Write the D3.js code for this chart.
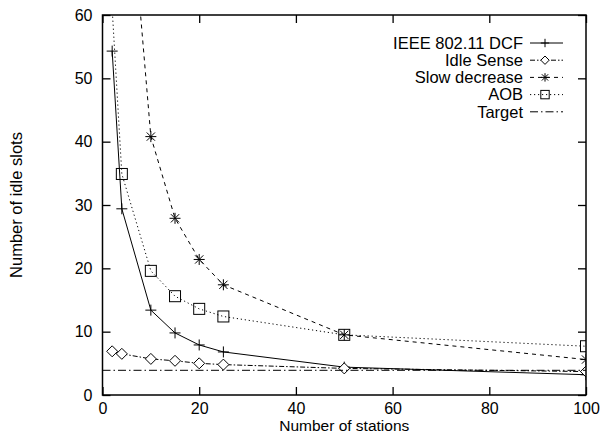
<!DOCTYPE html>
<html>
<head>
<meta charset="utf-8">
<script src="https://cdn.jsdelivr.net/npm/d3@7"></script>
<style>
  body { margin: 0; background: #fff; }
  svg { font-family: "Liberation Sans", Arial, sans-serif; }
</style>
</head>
<body>
<div id="container"></div>
<script>
// ---------- DATA ----------
const stations = [2, 4, 10, 15, 20, 25, 50, 100];
const dcf = [54.3, 29.4, 13.4, 9.8, 7.9, 6.8, 4.4, 3.2];
const idleSense = [6.9, 6.5, 5.7, 5.4, 5.0, 4.8, 4.2, 3.7];
const slowStations = [4, 10, 15, 20, 25, 50, 100];
const slowDecrease = [95, 40.8, 27.9, 21.4, 17.4, 9.5, 5.6];
const aob = [61, 34.9, 19.6, 15.6, 13.6, 12.4, 9.5, 7.7];
const target = 3.9;
const xTicks = [0, 20, 40, 60, 80, 100];
const yTicks = [0, 10, 20, 30, 40, 50, 60];

// ---------- DIMENSIONS ----------
const width = 600;
const height = 438;
const marginTop = 15;
const marginRight = 14;
const marginBottom = 43;
const marginLeft = 102.5;

const svg = d3.select('#container').append('svg')
    .attr('width', width)
    .attr('height', height);

const x = d3.scaleLinear().domain([0, 100]).range([marginLeft, width - marginRight]);
const y = d3.scaleLinear().domain([0, 60]).range([height - marginBottom, marginTop]);

svg.append('clipPath').attr('id', 'plot')
  .append('rect')
    .attr('x', x(0)).attr('y', y(60))
    .attr('width', x(100) - x(0)).attr('height', y(0) - y(60));

// ---------- AXES (gnuplot style, inward ticks) ----------
const tick = 8;
svg.append('g')
    .attr('transform', `translate(0,${y(0)})`)
    .call(d3.axisBottom(x).tickValues(xTicks).tickSizeInner(-tick).tickSizeOuter(0).tickPadding(8))
    .call(g => g.select('.domain').remove());
svg.append('g')
    .attr('transform', `translate(0,${y(60)})`)
    .call(d3.axisTop(x).tickValues(xTicks).tickSizeInner(-tick).tickSizeOuter(0).tickFormat(''))
    .call(g => g.select('.domain').remove());
svg.append('g')
    .attr('transform', `translate(${x(0)},0)`)
    .call(d3.axisLeft(y).tickValues(yTicks).tickSizeInner(-tick).tickSizeOuter(0).tickPadding(10))
    .call(g => g.select('.domain').remove());
svg.append('g')
    .attr('transform', `translate(${x(100)},0)`)
    .call(d3.axisRight(y).tickValues(yTicks).tickSizeInner(-tick).tickSizeOuter(0).tickFormat(''))
    .call(g => g.select('.domain').remove());

svg.selectAll('.tick text')
    .attr('font-size', 16)
    .attr('font-family', '"Liberation Sans", Arial, sans-serif')
    .attr('fill', '#000');
svg.selectAll('.tick line').attr('stroke', '#000').attr('stroke-width', 1.3);

// ---------- SERIES ----------
const plot = svg.append('g').attr('clip-path', 'url(#plot)');
const line = d3.line().x(d => x(d[0])).y(d => y(d[1]));

const series = [
  { name: 'IEEE 802.11 DCF', xs: stations, ys: dcf, dash: null, mark: 'plus' },
  { name: 'Idle Sense', xs: stations, ys: idleSense, dash: '5,2,1.5,2', mark: 'diamond' },
  { name: 'Slow decrease', xs: slowStations, ys: slowDecrease, dash: '4,4', mark: 'star' },
  { name: 'AOB', xs: stations, ys: aob, dash: '1.2,2.8', mark: 'square' }
];

function drawMark(g, type, cx, cy, s) {
  if (type === 'plus') {
    g.append('path').attr('d', `M${cx - s},${cy}H${cx + s}M${cx},${cy - s}V${cy + s}`);
  } else if (type === 'diamond') {
    g.append('path').attr('d', `M${cx},${cy - s}L${cx + s},${cy}L${cx},${cy + s}L${cx - s},${cy}Z`)
      .attr('fill', '#fff');
  } else if (type === 'star') {
    const k = s * 0.75;
    g.append('path').attr('d',
      `M${cx - s},${cy}H${cx + s}M${cx},${cy - s}V${cy + s}` +
      `M${cx - k},${cy - k}L${cx + k},${cy + k}M${cx - k},${cy + k}L${cx + k},${cy - k}`);
  } else if (type === 'square') {
    g.append('rect').attr('x', cx - s).attr('y', cy - s)
      .attr('width', 2 * s).attr('height', 2 * s).attr('fill', 'none');
  }
}

series.forEach(sr => {
  const pts = sr.xs.map((v, i) => [v, sr.ys[i]]);
  plot.append('path')
      .attr('d', line(pts))
      .attr('fill', 'none')
      .attr('stroke', '#000')
      .attr('stroke-width', 1)
      .attr('stroke-dasharray', sr.dash);
  const mg = plot.append('g').attr('stroke', '#000').attr('stroke-width', 1).attr('fill', 'none');
  pts.forEach(p => drawMark(mg, sr.mark, x(p[0]), y(p[1]), 5.5));
});

plot.append('path')
    .attr('d', line([[0, target], [100, target]]))
    .attr('fill', 'none')
    .attr('stroke', '#000')
    .attr('stroke-width', 1)
    .attr('stroke-dasharray', '8,3,1.5,3');

// ---------- BORDER ----------
svg.append('rect')
    .attr('x', x(0)).attr('y', y(60))
    .attr('width', x(100) - x(0)).attr('height', y(0) - y(60))
    .attr('fill', 'none').attr('stroke', '#000').attr('stroke-width', 1.5);

// ---------- LEGEND ----------
const legendItems = series.concat([{ name: 'Target', dash: '8,3,1.5,3', mark: null }]);
const lg = svg.append('g');
legendItems.forEach((it, i) => {
  const ly = 43 + i * 17.2;
  lg.append('text')
      .attr('x', 523).attr('y', ly)
      .attr('dy', '0.35em')
      .attr('text-anchor', 'end')
      .attr('font-size', 16.5)
      .text(it.name);
  lg.append('line')
      .attr('x1', 530).attr('x2', 563)
      .attr('y1', ly).attr('y2', ly)
      .attr('stroke', '#000').attr('stroke-width', 1)
      .attr('stroke-dasharray', it.dash);
  if (it.mark) {
    const mg = lg.append('g').attr('stroke', '#000').attr('stroke-width', 1).attr('fill', 'none');
    drawMark(mg, it.mark, 545, ly, 4.2);
  }
});

// ---------- AXIS LABELS ----------
svg.append('text')
    .attr('x', x(50)).attr('y', 431)
    .attr('text-anchor', 'middle')
    .attr('font-size', 15.5)
    .text('Number of stations');
svg.append('text')
    .attr('transform', `translate(22,${y(30)}) rotate(-90)`)
    .attr('text-anchor', 'middle')
    .attr('font-size', 16.5)
    .text('Number of idle slots');
</script>
</body>
</html>
